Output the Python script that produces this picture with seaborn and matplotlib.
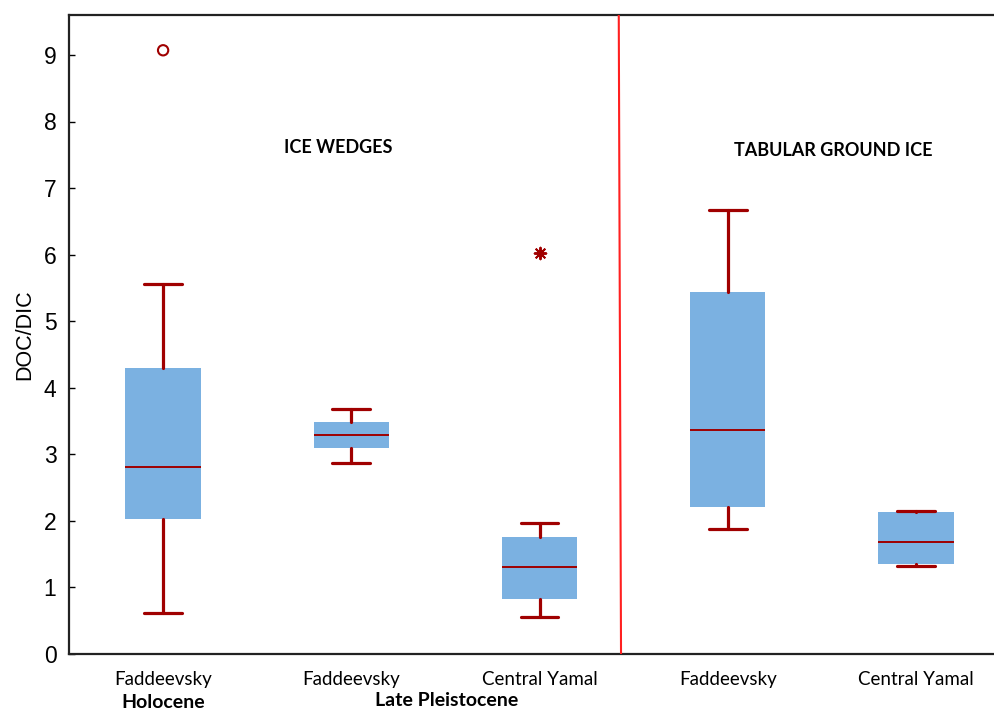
import matplotlib
matplotlib.use("Agg")
import matplotlib.pyplot as plt
import seaborn as sns

# box statistics (DOC/DIC)
sites = ["Faddeevsky", "Faddeevsky", "Central Yamal", "Faddeevsky", "Central Yamal"]
whislo = [0.61, 2.87, 0.55, 1.88, 1.32]
q1 = [2.03, 3.10, 0.82, 2.21, 1.345]
med = [2.81, 3.29, 1.30, 3.37, 1.68]
q3 = [4.30, 3.49, 1.76, 5.44, 2.14]
whishi = [5.56, 3.68, 1.97, 6.67, 2.15]

# outliers: (box index, value)
outlier_pos = [1]
outlier_val = [9.07]
extreme_pos = [3]
extreme_val = [6.02]

yticks = [0, 1, 2, 3, 4, 5, 6, 7, 8, 9]

box_fill = "#7BB1E1"
dark_red = "#A00000"

sns.set_theme(style="white")
plt.rcParams['font.family'] = ['Liberation Sans', 'DejaVu Sans']
for key in ['text.color', 'axes.labelcolor', 'xtick.color', 'ytick.color']:
    plt.rcParams[key] = 'black'

fig = plt.figure(figsize=(9.95, 7.1), dpi=100)
ax = fig.add_axes([69 / 995, 1 - 654 / 710, 1 - 69 / 995, (654 - 15) / 710])

stats = []
for i in range(len(sites)):
    stats.append({
        "label": sites[i], "whislo": whislo[i], "q1": q1[i], "med": med[i],
        "q3": q3[i], "whishi": whishi[i], "fliers": [],
    })

positions = list(range(1, len(sites) + 1))
ax.bxp(stats, positions=positions, widths=0.4, patch_artist=True,
       showfliers=False, capwidths=0.2,
       boxprops=dict(facecolor=box_fill, edgecolor=box_fill, linewidth=0),
       whiskerprops=dict(color=dark_red, linewidth=2.3),
       capprops=dict(color=dark_red, linewidth=2.3),
       medianprops=dict(color=dark_red, linewidth=1.4))

ax.scatter(outlier_pos, outlier_val, s=55, facecolors="none",
           edgecolors=dark_red, linewidths=1.5, zorder=5)
ax.scatter(extreme_pos, extreme_val, s=70, marker=(8, 2, 0),
           color=dark_red, linewidths=1.4, zorder=5)

# separator between ice wedges and tabular ground ice
ax.plot([3.421, 3.433], [9.6, 0], color="#FF2020", linewidth=1.5, zorder=4)

ax.set_xlim(0.5, 5.42)
ax.set_ylim(0, 9.6)
ax.set_yticks(yticks)
ax.set_yticklabels([str(t) for t in yticks], fontsize=16.5)
ax.tick_params(axis="y", left=True, direction="in", length=4, width=1,
               color="black", pad=9)
ax.tick_params(axis="x", length=0, pad=12)
ax.set_xticks(positions)
ax.set_xticklabels(sites, fontsize=13.5, family=['Lato', 'DejaVu Sans'])

ax.set_ylabel("DOC/DIC", fontsize=15.5, labelpad=6)

for side in ["left", "bottom", "top"]:
    ax.spines[side].set_visible(True)
    ax.spines[side].set_color("#222222")
    ax.spines[side].set_linewidth(1.6)
ax.spines["right"].set_visible(False)

ax.text(1.93, 7.61, "ICE WEDGES", fontsize=13, fontweight="bold",
        family=['Lato', 'DejaVu Sans'], ha="center", va="center")
ax.text(4.56, 7.56, "TABULAR GROUND ICE", fontsize=13, fontweight="bold",
        family=['Lato', 'DejaVu Sans'], ha="center", va="center")

fig.text(163 / 995, 1 - 702 / 710, "Holocene", fontsize=14, fontweight="bold",
         family=['Lato', 'DejaVu Sans'], ha="center", va="center")
fig.text(447 / 995, 1 - 701 / 710, "Late Pleistocene", fontsize=14,
         fontweight="bold", family=['Lato', 'DejaVu Sans'],
         ha="center", va="center")

fig.savefig("out.png", dpi=100)
